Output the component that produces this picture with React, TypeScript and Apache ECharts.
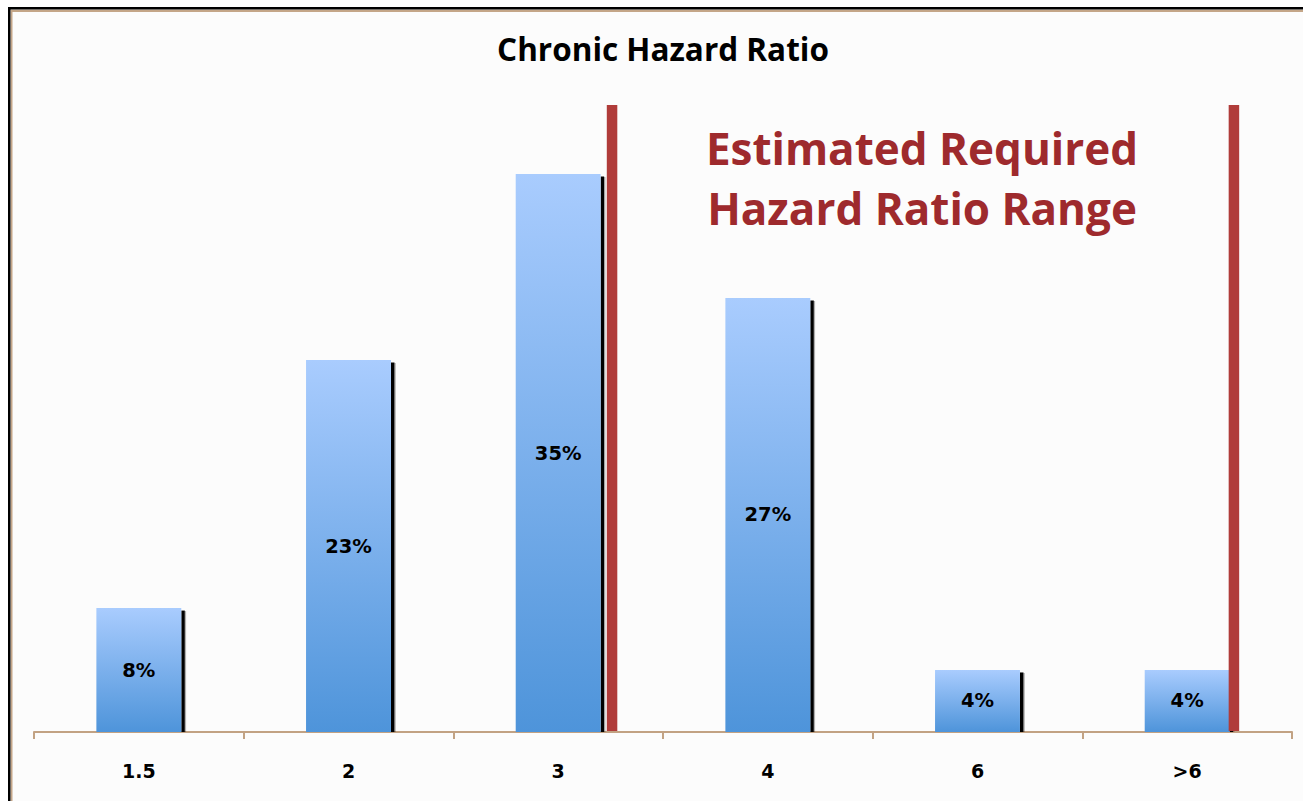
import React, { useEffect, useRef } from "react";
import * as echarts from "echarts";

const categories = ["1.5", "2", "3", "4", "6", ">6"];
const shares = [7.71, 23.14, 34.71, 27.0, 3.86, 3.86];
const rangeMarkers = [2.757, 5.723];
const rangeMarkerTop = 39;
const chartTitle = "Chronic Hazard Ratio";
const rangeNote = "Estimated Required\nHazard Ratio Range";

const BAR_RATIO = 0.405;

export default function App() {
  const ref = useRef<HTMLDivElement>(null);

  useEffect(() => {
    if (!ref.current) return;
    const chart = echarts.init(ref.current, undefined, { renderer: "svg" });
    const tan = "#c2a283";
    const option: any = {
      animation: false,
      backgroundColor: "#ffffff",
      grid: { left: 34, right: 11, top: 89, bottom: 69, containLabel: false },
      graphic: [
        { type: "rect", z: -10, shape: { x: 8, y: 7, width: 1400, height: 900 }, style: { fill: "#000000" } },
        { type: "rect", z: -9, shape: { x: 10.5, y: 9.5, width: 1400, height: 900 }, style: { fill: "#e6dcd2" } },
        { type: "rect", z: -8, shape: { x: 11, y: 10, width: 1400, height: 900 }, style: { fill: "#c4a688" } },
        { type: "rect", z: -7, shape: { x: 12.5, y: 12, width: 1400, height: 900 }, style: { fill: "#fcfcfc" } },
        {
          type: "text",
          z: 10,
          x: 663,
          y: 48,
          style: {
            text: chartTitle,
            font: 'bold 31.5px "Open Sans"',
            fill: "#000000",
            textAlign: "center",
            textVerticalAlign: "middle",
          },
        },
        {
          type: "text",
          z: 10,
          x: 922,
          y: 178,
          style: {
            text: rangeNote,
            font: 'bold 44px "Open Sans"',
            lineHeight: 60,
            fill: "#9e2a2d",
            textAlign: "center",
            textVerticalAlign: "middle",
          },
        },
      ],
      xAxis: [
        {
          type: "category",
          data: categories,
          boundaryGap: true,
          axisLine: { show: true, lineStyle: { color: tan, width: 2 } },
          axisTick: { show: true, length: 7, lineStyle: { color: tan, width: 2 } },
          axisLabel: {
            margin: 29,
            color: "#000000",
            fontFamily: "DejaVu Sans",
            fontWeight: "bold",
            fontSize: 19,
          },
          splitLine: { show: false },
        },
        { type: "value", min: 0, max: 6, show: false },
      ],
      yAxis: { type: "value", min: 0, max: 40, show: false },
      series: [
        {
          type: "custom",
          xAxisIndex: 0,
          z: 1,
          data: shares.map((v, i) => [i, v]),
          renderItem: (params: any, api: any) => {
            const top = api.coord([api.value(0), api.value(1)]);
            const base = api.coord([api.value(0), 0]);
            const w = api.size([1, 0])[0] * BAR_RATIO;
            const x = top[0] + w / 2;
            return {
              type: "group",
              children: [
                {
                  type: "rect",
                  shape: { x: x, y: top[1] + 2.5, width: 3.5, height: base[1] - top[1] - 2.5 },
                  style: { fill: "#000000" },
                },
                {
                  type: "rect",
                  shape: { x: x + 3.5, y: top[1] + 3, width: 1.3, height: base[1] - top[1] - 3 },
                  style: { fill: "rgba(0,0,0,0.3)" },
                },
              ],
            };
          },
        },
        {
          type: "bar",
          xAxisIndex: 0,
          z: 2,
          data: shares,
          barWidth: BAR_RATIO * 100 + "%",
          itemStyle: {
            color: new echarts.graphic.LinearGradient(0, 0, 0, 1, [
              { offset: 0, color: "#a9ccfe" },
              { offset: 1, color: "#4e94da" },
            ]),
          },
          label: {
            show: true,
            position: "inside",
            formatter: (p: any) => Math.round(p.value) + "%",
            color: "#000000",
            fontFamily: "DejaVu Sans",
            fontWeight: "bold",
            fontSize: 19.5,
          },
        },
        {
          type: "custom",
          xAxisIndex: 1,
          z: 5,
          data: rangeMarkers.map((x) => [x, rangeMarkerTop]),
          renderItem: (params: any, api: any) => {
            const top = api.coord([api.value(0), api.value(1)]);
            const base = api.coord([api.value(0), 0]);
            return {
              type: "rect",
              shape: { x: top[0] - 5.25, y: top[1], width: 10.5, height: base[1] - top[1] - 1 },
              style: { fill: "#b03c3a" },
            };
          },
        },
      ],
    };
    chart.setOption(option);
    return () => chart.dispose();
  }, []);

  return (
    <div
      ref={ref}
      style={{ position: "absolute", left: 0, top: 0, width: 1303, height: 801 }}
    />
  );
}
